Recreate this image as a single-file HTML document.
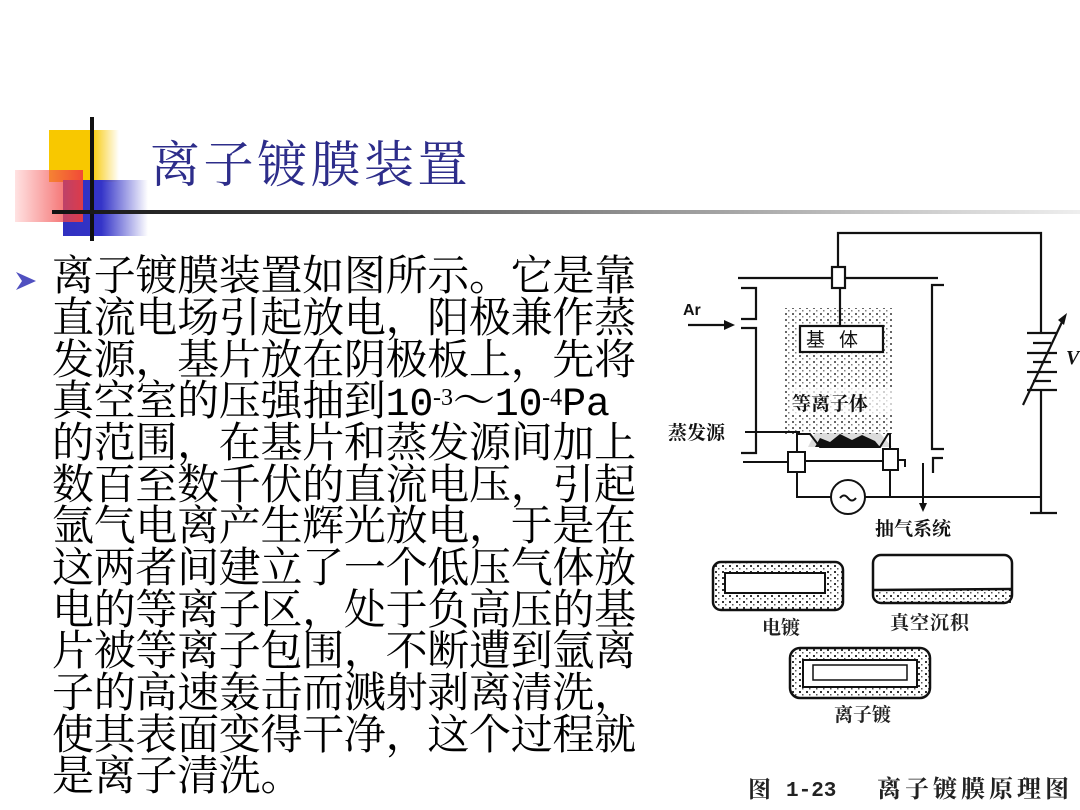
<!DOCTYPE html>
<html><head><meta charset="utf-8">
<style>
html,body{margin:0;padding:0;background:#fff;}
body{width:1080px;height:810px;position:relative;overflow:hidden;font-family:"Liberation Serif","Noto Serif CJK SC",serif;}
.abs{position:absolute;}
.ln{position:absolute;left:52px;font-size:42px;line-height:42px;letter-spacing:-0.3px;white-space:nowrap;color:#000;font-family:"Liberation Serif","Noto Serif CJK SC",serif;}
sup{font-size:24px;vertical-align:top;position:relative;top:-4px;letter-spacing:0}
.m{font-family:"Liberation Mono",monospace;font-size:40px;}
</style></head><body>
<div class="abs" style="left:49px;top:130px;width:70px;height:52px;background:linear-gradient(90deg,#f8c800 0%,#f8c800 60%,rgba(248,200,0,0) 100%);"></div>
<div class="abs" style="left:63px;top:180px;width:85px;height:56px;background:linear-gradient(90deg,#3030c0 0%,#3434c8 45%,rgba(60,60,200,0) 100%);"></div>
<div class="abs" style="left:15px;top:170px;width:68px;height:52px;background:linear-gradient(90deg,rgba(255,160,160,0.3) 0%,rgba(240,60,60,0.9) 100%);"></div>
<div class="abs" style="left:90px;top:117px;width:4px;height:124px;background:#111;"></div>
<div class="abs" style="left:52px;top:210px;width:1028px;height:4px;background:linear-gradient(90deg,#111 0%,#444 25%,#999 60%,#eee 100%);"></div>
<div class="abs" style="left:150px;top:136px;font-size:50px;line-height:58px;letter-spacing:3.5px;color:#2d2d8a;font-family:'Liberation Serif','Noto Serif CJK SC',serif;">离子镀膜装置</div>
<svg class="abs" style="left:14px;top:270px" width="24" height="22"><polygon points="2,2 22,11 2,20 8,11" fill="#5050c0"/></svg>
<div class="ln" style="top:256px">离子镀膜装置如图所示。它是靠</div>
<div class="ln" style="top:298px">直流电场引起放电，阳极兼作蒸</div>
<div class="ln" style="top:340px">发源，基片放在阴极板上，先将</div>
<div class="ln" style="top:381px">真空室的压强抽到<span class="m">10</span><sup>-3</sup>～<span class="m">10</span><sup>-4</sup><span class="m">Pa</span></div>
<div class="ln" style="top:423px">的范围，在基片和蒸发源间加上</div>
<div class="ln" style="top:465px">数百至数千伏的直流电压，引起</div>
<div class="ln" style="top:506px">氩气电离产生辉光放电，于是在</div>
<div class="ln" style="top:548px">这两者间建立了一个低压气体放</div>
<div class="ln" style="top:590px">电的等离子区，处于负高压的基</div>
<div class="ln" style="top:631px">片被等离子包围，不断遭到氩离</div>
<div class="ln" style="top:673px">子的高速轰击而溅射剥离清洗，</div>
<div class="ln" style="top:715px">使其表面变得干净，这个过程就</div>
<div class="ln" style="top:756px">是离子清洗。</div>
<svg class="abs" style="left:0;top:0" width="1080" height="810">
<defs>
<pattern id="dots" width="7" height="6" patternUnits="userSpaceOnUse">
<rect x="1" y="1" width="2" height="2" fill="#333"/><rect x="4" y="4" width="1.5" height="1.5" fill="#555"/>
</pattern>
</defs>
<g stroke="#111" stroke-width="2.2" fill="none">
<polyline points="838,267 838,233 1041,233 1041,333"/>
<polyline points="1041,390 1041,513"/>
<line x1="1030" y1="513" x2="1057" y2="513"/>
<line x1="738" y1="278" x2="938" y2="278"/>
<rect x="832" y="267" width="13" height="21" fill="#fff"/>
<line x1="840" y1="288" x2="840" y2="326"/>
<polyline points="741,288 756,288 756,319 741,319"/>
<polyline points="741,328 756,328 756,453 741,453"/>
<line x1="688" y1="325" x2="730" y2="325"/>
<polyline points="944,285 932,285 932,449 944,449"/>
<polyline points="943,458 933,458 933,473"/>
</g>
<polygon points="735,325 724,320 724,330" fill="#111"/>
<text x="683" y="315" font-family="Liberation Sans,sans-serif" font-weight="bold" font-size="16" fill="#111">Ar</text>
<rect x="783" y="308" width="110" height="126" fill="url(#dots)" opacity="0.75"/>
<rect x="800" y="326" width="83" height="26" fill="#fff" stroke="#111" stroke-width="2.2"/>
<text x="806" y="346" font-family="Noto Sans CJK SC,sans-serif" font-size="19" fill="#111" letter-spacing="14">基体</text>
<rect x="790" y="388" width="104" height="26" fill="#fff" opacity="0.7"/>
<text x="792" y="410" font-family="Noto Serif CJK SC,serif" font-size="19" fill="#111" font-weight="bold">等离子体</text>
<text x="668" y="439" font-family="Noto Serif CJK SC,serif" font-size="19" fill="#111" font-weight="bold">蒸发源</text>
<g stroke="#111" stroke-width="2" fill="none">
<line x1="745" y1="432" x2="800" y2="432"/>
<polyline points="797,452 797,434 810,434 820,447 880,447 888,434 890,434 890,449"/>
<rect x="788" y="452" width="17" height="20" fill="#fff"/>
<rect x="883" y="449" width="15" height="21" fill="#fff"/>
<polyline points="898,460 905,460 905,467"/>
<line x1="805" y1="461" x2="883" y2="461"/>
<line x1="743" y1="462" x2="788" y2="462"/>
<polyline points="797,472 797,497 831,497"/>
<circle cx="848" cy="497" r="17" fill="#fff"/>
<path d="M840,498 q4,-5 8,0 q4,5 8,0"/>
<polyline points="865,497 1041,497"/>
<line x1="890" y1="470" x2="890" y2="497"/>
<line x1="923" y1="463" x2="923" y2="505"/>
</g>
<polygon points="808,447 892,447 880,433 815,433" fill="#111" opacity="0.15"/>
<path d="M815,447 L820,438 830,442 840,434 852,440 862,435 875,441 880,447 Z" fill="#111"/>
<polygon points="923,512 919,503 927,503" fill="#111"/>
<text x="875" y="535" font-family="Noto Serif CJK SC,serif" font-size="19" fill="#111" font-weight="bold">抽气系统</text>
<g stroke="#111" stroke-width="2.2">
<line x1="1027" y1="333" x2="1057" y2="333"/>
<line x1="1033" y1="343" x2="1051" y2="343"/>
<line x1="1027" y1="353" x2="1057" y2="353"/>
<line x1="1033" y1="362" x2="1051" y2="362"/>
<line x1="1027" y1="372" x2="1057" y2="372"/>
<line x1="1033" y1="381" x2="1051" y2="381"/>
<line x1="1027" y1="390" x2="1057" y2="390"/>
<line x1="1023" y1="405" x2="1062" y2="322"/>
</g>
<polygon points="1067,313 1058,320 1064,325" fill="#111"/>
<text x="1066" y="364" font-family="Liberation Serif,serif" font-style="italic" font-weight="bold" font-size="20" fill="#111">V</text>
<rect x="713" y="562" width="130" height="48" rx="8" fill="url(#dots)" stroke="#111" stroke-width="2.5"/>
<rect x="725" y="573" width="100" height="20" fill="#fff" stroke="#111" stroke-width="2"/>
<text x="762" y="634" font-family="Noto Serif CJK SC,serif" font-size="19" fill="#222" font-weight="bold">电镀</text>
<rect x="873" y="590" width="139" height="13" fill="url(#dots)"/>
<rect x="873" y="555" width="139" height="48" rx="8" fill="none" stroke="#111" stroke-width="2.5"/>
<line x1="873" y1="590" x2="1012" y2="589" stroke="#111" stroke-width="2.5"/>
<text x="890" y="629" font-family="Noto Serif CJK SC,serif" font-size="19" fill="#222" letter-spacing="1" font-weight="bold">真空沉积</text>
<rect x="790" y="648" width="140" height="50" rx="10" fill="url(#dots)" stroke="#111" stroke-width="2.5"/>
<rect x="803" y="660" width="114" height="27" fill="#fff" stroke="#111" stroke-width="2"/>
<rect x="813" y="665" width="94" height="15" fill="none" stroke="#111" stroke-width="1.5"/>
<text x="834" y="721" font-family="Noto Serif CJK SC,serif" font-size="19" fill="#222" font-weight="bold">离子镀</text>
<text x="748" y="797" font-family="Noto Serif CJK SC,serif" font-size="23" font-weight="bold" fill="#222">图</text>
<text x="786" y="796" font-family="Liberation Mono,monospace" font-size="21" font-weight="bold" fill="#222">1-23</text>
<text x="877" y="797" font-family="Noto Serif CJK SC,serif" font-size="24" font-weight="bold" fill="#222" letter-spacing="4">离子镀膜原理图</text>
</svg>
</body></html>
